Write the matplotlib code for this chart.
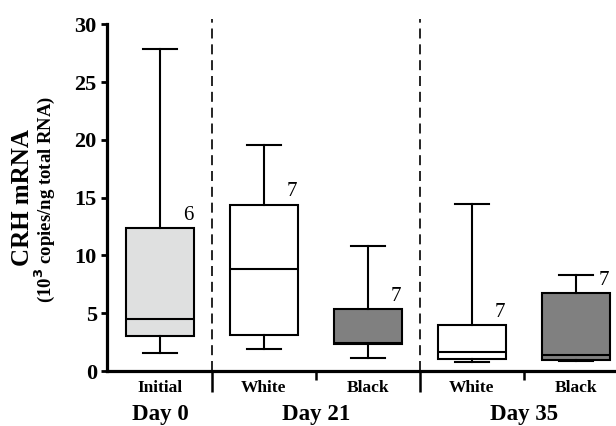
import matplotlib
matplotlib.use("Agg")
import matplotlib.pyplot as plt

# values (10^3 copies/ng total RNA)
groups = ["Initial", "White", "Black", "White", "Black"]
whislo = [1.58, 1.88, 1.15, 0.81, 0.90]
q1 = [3.03, 3.09, 2.30, 1.04, 0.92]
med = [4.50, 8.80, 2.45, 1.61, 1.38]
q3 = [12.34, 14.39, 5.33, 3.98, 6.72]
whishi = [27.85, 19.55, 10.84, 14.42, 8.33]
n_labels = ["6", "7", "7", "7", "7"]
colors = ["#dfe0e0", "white", "#808080", "white", "#808080"]
days = ["Day 0", "Day 21", "Day 35"]
day_pos = [0, 1.5, 3.5]

plt.rcParams["font.family"] = ["Liberation Serif", "DejaVu Serif"]

fig = plt.figure(figsize=(6.16, 4.26), dpi=100)
ax = fig.add_axes([0.173, 0.129, 0.827, 0.814])

stats = []
for i in range(len(groups)):
    stats.append(dict(whislo=whislo[i], q1=q1[i], med=med[i], q3=q3[i],
                      whishi=whishi[i], fliers=[]))

bp = ax.bxp(stats, positions=range(len(groups)), widths=0.66, patch_artist=True,
            showfliers=False, capwidths=0.33,
            boxprops=dict(linewidth=1.5, edgecolor="black"),
            medianprops=dict(color="black", linewidth=1.5),
            whiskerprops=dict(color="black", linewidth=1.5),
            capprops=dict(color="black", linewidth=1.5))
for patch, c in zip(bp["boxes"], colors):
    patch.set_facecolor(c)

for i, lab in enumerate(n_labels):
    ax.text(i + 0.32, q3[i] + 0.3, lab, ha="right", va="bottom", fontsize=15)

# group separators
for x in [0.5, 2.5]:
    ax.plot([x, x], [0, 30.5], color="black", lw=1.2, ls=(0, (6, 3.5)), clip_on=False)

ax.set_xlim(-0.5125, 4.385)
ax.set_ylim(0, 30)
ax.set_yticks([0, 5, 10, 15, 20, 25, 30])
ax.tick_params(axis="y", direction="out", length=4, width=2, labelsize=16, pad=3)
for t in ax.get_yticklabels():
    t.set_fontweight("bold")

ax.set_xticks([0.5, 2.5])
ax.set_xticklabels([])
ax.set_xticks([1.5, 3.5], minor=True)
ax.tick_params(axis="x", which="major", direction="out", length=15, width=1.8)
ax.tick_params(axis="x", which="minor", direction="out", length=6.5, width=1.8)

for s in ["top", "right"]:
    ax.spines[s].set_visible(False)
ax.spines["left"].set_linewidth(2.3)
ax.spines["bottom"].set_linewidth(2.3)

tr = ax.get_xaxis_transform()
for i, g in enumerate(groups):
    ax.text(i, -0.060, g, transform=tr, ha="center", va="baseline",
            fontsize=12.5, fontweight="bold")
for p, d in zip(day_pos, days):
    ax.text(p, -0.141, d, transform=tr, ha="center", va="baseline",
            fontsize=16.5, fontweight="bold")

fig.text(0.036, 0.537, "CRH mRNA", rotation=90, ha="center", va="center",
         fontsize=18, fontweight="bold")
fig.text(0.072, 0.533, "(10$^{\\mathbf{3}}$ copies/ng total RNA)", rotation=90,
         ha="center", va="center", fontsize=13.5, fontweight="bold")

fig.savefig("out.png", dpi=100)
